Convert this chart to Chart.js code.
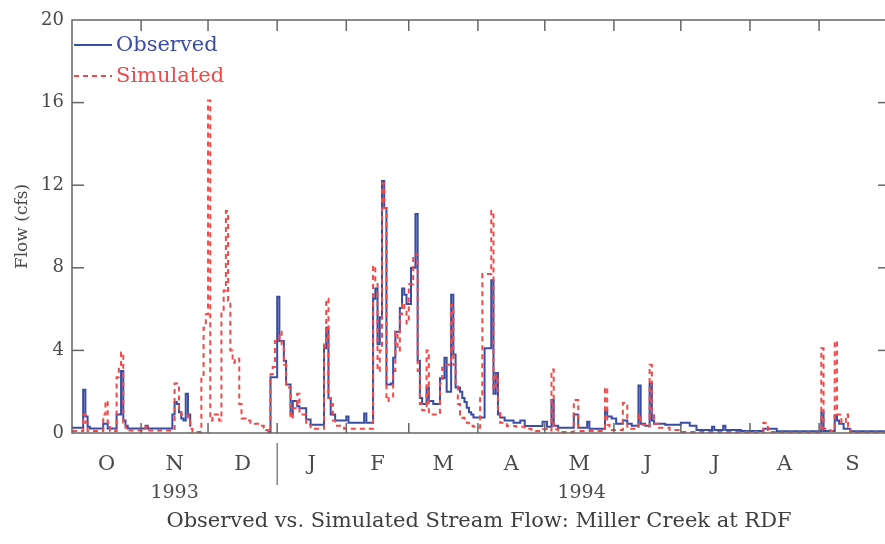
<!DOCTYPE html>
<html>
<head>
<meta charset="utf-8">
<title>Observed vs. Simulated Stream Flow: Miller Creek at RDF</title>
<script src="https://cdn.jsdelivr.net/npm/chart.js@4"></script>
<style>
  html, body { margin: 0; padding: 0; overflow: hidden; background: #fff; }
  #flowChart { display: block; }
</style>
</head>
<body>
<canvas id="flowChart" width="890" height="544"></canvas>
<script>
// Water year Oct 1993 - Sep 1994, x = day number from Oct 1
const monthLabels = ['O', 'N', 'D', 'J', 'F', 'M', 'A', 'M', 'J', 'J', 'A', 'S'];
const monthStartDays = [0, 31, 61, 92, 123, 151, 182, 212, 243, 273, 304, 335, 365];
const yearLabels = ['1993', '1994'];
const yearStartDays = [0, 92, 365];
const flowTicks = [0, 4, 8, 12, 16, 20];

// daily flow (cfs) as [day, value] steps, each value holds until the next day listed
const observedSteps = [
  [0, 0.25], [5, 2.1], [6, 0.8], [7, 0.3], [8, 0.22],
  [14, 0.45], [16, 0.22],
  [20, 0.9], [22, 3.0], [23, 0.6], [24, 0.35], [25, 0.22],
  [33, 0.35], [34, 0.22],
  [45, 0.9], [46, 1.5], [47, 1.4], [48, 1.0], [49, 0.7], [50, 0.6], [51, 1.9], [52, 0.9], [53, 0.3], [55, null],
  [88, 0.05], [89, 2.7], [92, 6.6], [93, 4.45], [95, 3.5], [96, 2.35], [98, 0.9], [99, 1.55], [101, 1.3], [102, 1.2], [105, 0.65], [107, 0.4],
  [113, 4.1], [114, 5.1], [115, 1.7], [116, 0.9], [118, 0.6], [123, 0.8], [124, 0.5], [131, 0.95], [132, 0.5],
  [135, 6.5], [136, 7.0], [137, 4.3], [138, 5.6], [139, 12.2], [140, 10.9], [141, 2.35], [143, 2.4], [144, 3.65], [145, 4.9],
  [147, 6.05], [148, 7.0], [149, 6.7], [150, 6.25], [152, 8.0], [154, 10.6], [155, 3.5], [156, 1.7], [157, 1.4], [159, 2.2],
  [160, 1.55], [162, 1.4], [165, 2.65], [167, 3.65], [168, 2.0], [170, 6.7], [171, 3.8], [172, 2.2], [174, 2.0], [175, 1.7],
  [176, 1.5], [177, 1.22], [178, 1.0], [179, 0.9], [180, 0.75],
  [185, 4.1], [188, 7.4], [189, 1.9], [190, 2.9], [191, 0.9], [192, 0.75], [194, 0.6], [198, 0.5], [201, 0.6], [203, 0.34],
  [211, 0.55], [213, 0.3], [215, 1.6], [216, 0.35], [218, 0.26], [225, 0.9], [227, 0.26], [231, 0.55], [232, 0.2],
  [239, 1.1], [240, 0.8], [242, 0.7], [244, 0.45], [247, 0.6], [249, 0.45], [251, 0.35], [254, 2.3], [255, 0.45], [257, 0.35],
  [259, 2.4], [260, 0.6], [261, 0.45], [266, 0.4],
  [273, 0.5], [277, 0.35], [280, 0.15], [287, 0.3], [288, 0.15], [292, 0.35], [293, 0.15], [300, 0.1],
  [310, 0.2], [316, 0.08], [336, 1.0], [337, 0.1], [342, 0.85], [343, 0.6], [344, 0.45], [346, 0.2], [349, 0.08], [365, 0.08]
];

const simulatedSteps = [
  [0, 0.1], [5, 0.9], [6, 0.5], [7, 0.1],
  [14, 0.9], [15, 1.55], [16, 0.5], [17, 0.1],
  [20, 2.7], [21, 3.2], [22, 3.9], [23, 0.5], [24, 0.25], [25, 0.12],
  [33, 0.3], [34, 0.12],
  [46, 2.4], [48, 1.1], [49, 0.9], [52, 0.6], [53, 0.2], [54, 0.05],
  [58, 2.7], [59, 5.1], [60, 5.75], [61, 16.1], [62, 0.6], [63, 0.9], [66, 0.6], [67, 5.9], [68, 6.9], [69, 10.75], [70, 6.4],
  [71, 4.0], [72, 3.4], [73, 3.6], [75, 1.4], [76, 0.7], [78, 0.6], [80, 0.5], [82, 0.45], [84, 0.35], [86, 0.25], [87, 0.15], [88, 0.05],
  [89, 2.85], [90, 3.2], [91, 4.45], [93, 4.9], [94, 4.3], [95, 3.3], [96, 2.2], [98, 0.7], [99, 1.2], [101, 1.9], [102, 0.9],
  [105, 0.4], [107, 0.2],
  [113, 4.3], [114, 6.5], [115, 1.7], [116, 1.4], [117, 0.6], [118, 0.35], [122, 0.2],
  [135, 8.1], [136, 7.35], [137, 3.0], [138, 4.0], [139, 12.1], [140, 10.9], [141, 1.55], [142, 1.7], [144, 3.0], [145, 4.9],
  [146, 4.0], [147, 5.75], [148, 6.3], [149, 6.0], [150, 5.3], [151, 7.2], [153, 8.65], [155, 3.0], [156, 1.4], [157, 1.1],
  [159, 4.0], [160, 0.9], [165, 2.4], [166, 3.16], [168, 3.3], [170, 6.2], [171, 3.3], [172, 2.4], [173, 1.4], [174, 0.9],
  [175, 0.74], [176, 0.6], [177, 0.5], [178, 0.42], [179, 0.35], [180, 0.3], [181, 0.26],
  [183, 1.87], [184, 7.7], [188, 10.75], [189, 2.1], [190, 2.8], [191, 1.1], [192, 0.5], [195, 0.34], [199, 0.3], [203, 0.2],
  [206, 0.1], [211, 0.18], [213, 0.12],
  [215, 3.08], [216, 0.18], [218, 0.05], [225, 1.6], [227, 0.1], [239, 2.2], [240, 0.4], [241, 0.15], [247, 1.45], [249, 0.2],
  [254, 0.9], [255, 0.4], [257, 0.3], [259, 3.3], [260, 1.0], [261, 0.45], [263, 0.25], [268, 0.15], [272, 0.05],
  [310, 0.5], [311, 0.3], [312, 0.05], [316, 0.02], [336, 4.1], [337, 0.2], [340, 0.1], [342, 4.45], [343, 0.9], [345, 0.5],
  [347, 0.9], [348, 0.3], [349, 0.02], [365, 0.02]
];

const monthMidDays = monthLabels.map((m, i) => (monthStartDays[i] + monthStartDays[i + 1]) / 2);
const yearMidDays = yearLabels.map((y, i) => (yearStartDays[i] + yearStartDays[i + 1]) / 2);
const toPoints = steps => steps.map(([d, v]) => ({ x: d, y: v }));

const axisColor = '#666';
const textColor = '#4a4a4a';

function line(ctx, x1, y1, x2, y2) {
  ctx.beginPath();
  ctx.moveTo(x1, y1);
  ctx.lineTo(x2, y2);
  ctx.stroke();
}

// box frame, inward ticks, year separator
const framePlugin = {
  id: 'frame',
  afterDatasetsDraw(chart) {
    const { ctx, chartArea: a, scales } = chart;
    const x = scales.x, y = scales.y;
    ctx.save();
    ctx.strokeStyle = axisColor;
    ctx.lineWidth = 1.5;
    ctx.strokeRect(a.left, a.top, a.right - a.left, a.bottom - a.top);
    monthStartDays.slice(1, -1).forEach(d => {
      const px = x.getPixelForValue(d);
      line(ctx, px, a.top, px, a.top + 11);
      line(ctx, px, a.bottom, px, a.bottom - 10);
    });
    flowTicks.slice(1, -1).forEach(v => {
      const py = y.getPixelForValue(v);
      line(ctx, a.left, py, a.left + 12, py);
      line(ctx, a.right, py, a.right - 8, py);
    });
    const sx = x.getPixelForValue(yearStartDays[1]);
    ctx.lineWidth = 1.2;
    line(ctx, sx, a.bottom + 10, sx, a.bottom + 52);
    ctx.restore();
  }
};

// legend in the upper left corner of the plot
const cornerLegend = {
  id: 'cornerLegend',
  afterDatasetsDraw(chart) {
    const { ctx, chartArea: a } = chart;
    chart.data.datasets.forEach((ds, i) => {
      const yy = a.top + 25 + i * 31;
      ctx.save();
      ctx.strokeStyle = ds.borderColor;
      ctx.lineWidth = 2;
      ctx.setLineDash(ds.borderDash || []);
      line(ctx, a.left + 2, yy, a.left + 40, yy);
      ctx.setLineDash([]);
      ctx.fillStyle = ds.borderColor;
      ctx.font = '21px "DejaVu Serif"';
      ctx.textBaseline = 'middle';
      ctx.fillText(ds.label, a.left + 44, yy + 1);
      ctx.restore();
    });
  }
};

Chart.defaults.font.family = '"DejaVu Serif", "Liberation Serif", serif';
Chart.defaults.color = textColor;

new Chart(document.getElementById('flowChart'), {
  type: 'line',
  data: {
    datasets: [
      {
        label: 'Observed',
        data: toPoints(observedSteps),
        borderColor: '#3a4da5',
        borderWidth: 2,
        stepped: true,
        pointRadius: 0,
        spanGaps: false,
        order: 1
      },
      {
        label: 'Simulated',
        data: toPoints(simulatedSteps),
        borderColor: '#f24848',
        borderWidth: 2,
        borderDash: [5, 4],
        stepped: true,
        pointRadius: 0,
        order: 0
      }
    ]
  },
  options: {
    responsive: false,
    animation: false,
    devicePixelRatio: 1,
    layout: { padding: { left: 0, right: 4, top: 20, bottom: 0 } },
    plugins: {
      legend: { display: false },
      tooltip: { enabled: false }
    },
    scales: {
      x: {
        type: 'linear',
        min: 0,
        max: 365,
        grid: { display: false, drawTicks: false },
        border: { display: false },
        afterBuildTicks: s => { s.ticks = monthMidDays.map(v => ({ value: v })); },
        ticks: {
          autoSkip: false,
          maxRotation: 0,
          padding: 19,
          font: { size: 21 },
          callback: (v, i) => monthLabels[i]
        },
        afterFit: s => { s.height = 44; }
      },
      year: {
        type: 'linear',
        position: 'bottom',
        weight: 1,
        min: 0,
        max: 365,
        grid: { display: false, drawTicks: false },
        border: { display: false },
        afterBuildTicks: s => { s.ticks = yearMidDays.map(v => ({ value: v })); },
        ticks: {
          autoSkip: false,
          maxRotation: 0,
          padding: 5,
          font: { size: 19 },
          callback: (v, i) => yearLabels[i]
        },
        // chart caption sits under the year row, centred on the plot
        title: {
          display: true,
          text: 'Observed vs. Simulated Stream Flow: Miller Creek at RDF',
          color: '#3e3e3e',
          font: { size: 21 },
          padding: { top: 0, bottom: 10 }
        },
        afterFit: s => { s.height = 67; }
      },
      y: {
        min: 0,
        max: 20,
        grid: { display: false, drawTicks: false },
        border: { display: false },
        afterBuildTicks: s => { s.ticks = flowTicks.map(v => ({ value: v })); },
        ticks: { padding: 8, font: { size: 18 } },
        title: {
          display: true,
          text: 'Flow (cfs)',
          font: { size: 17 },
          padding: { top: 12, bottom: 0 }
        },
        afterFit: s => { s.width = 72; }
      }
    }
  },
  plugins: [framePlugin, cornerLegend]
});
</script>
</body>
</html>
